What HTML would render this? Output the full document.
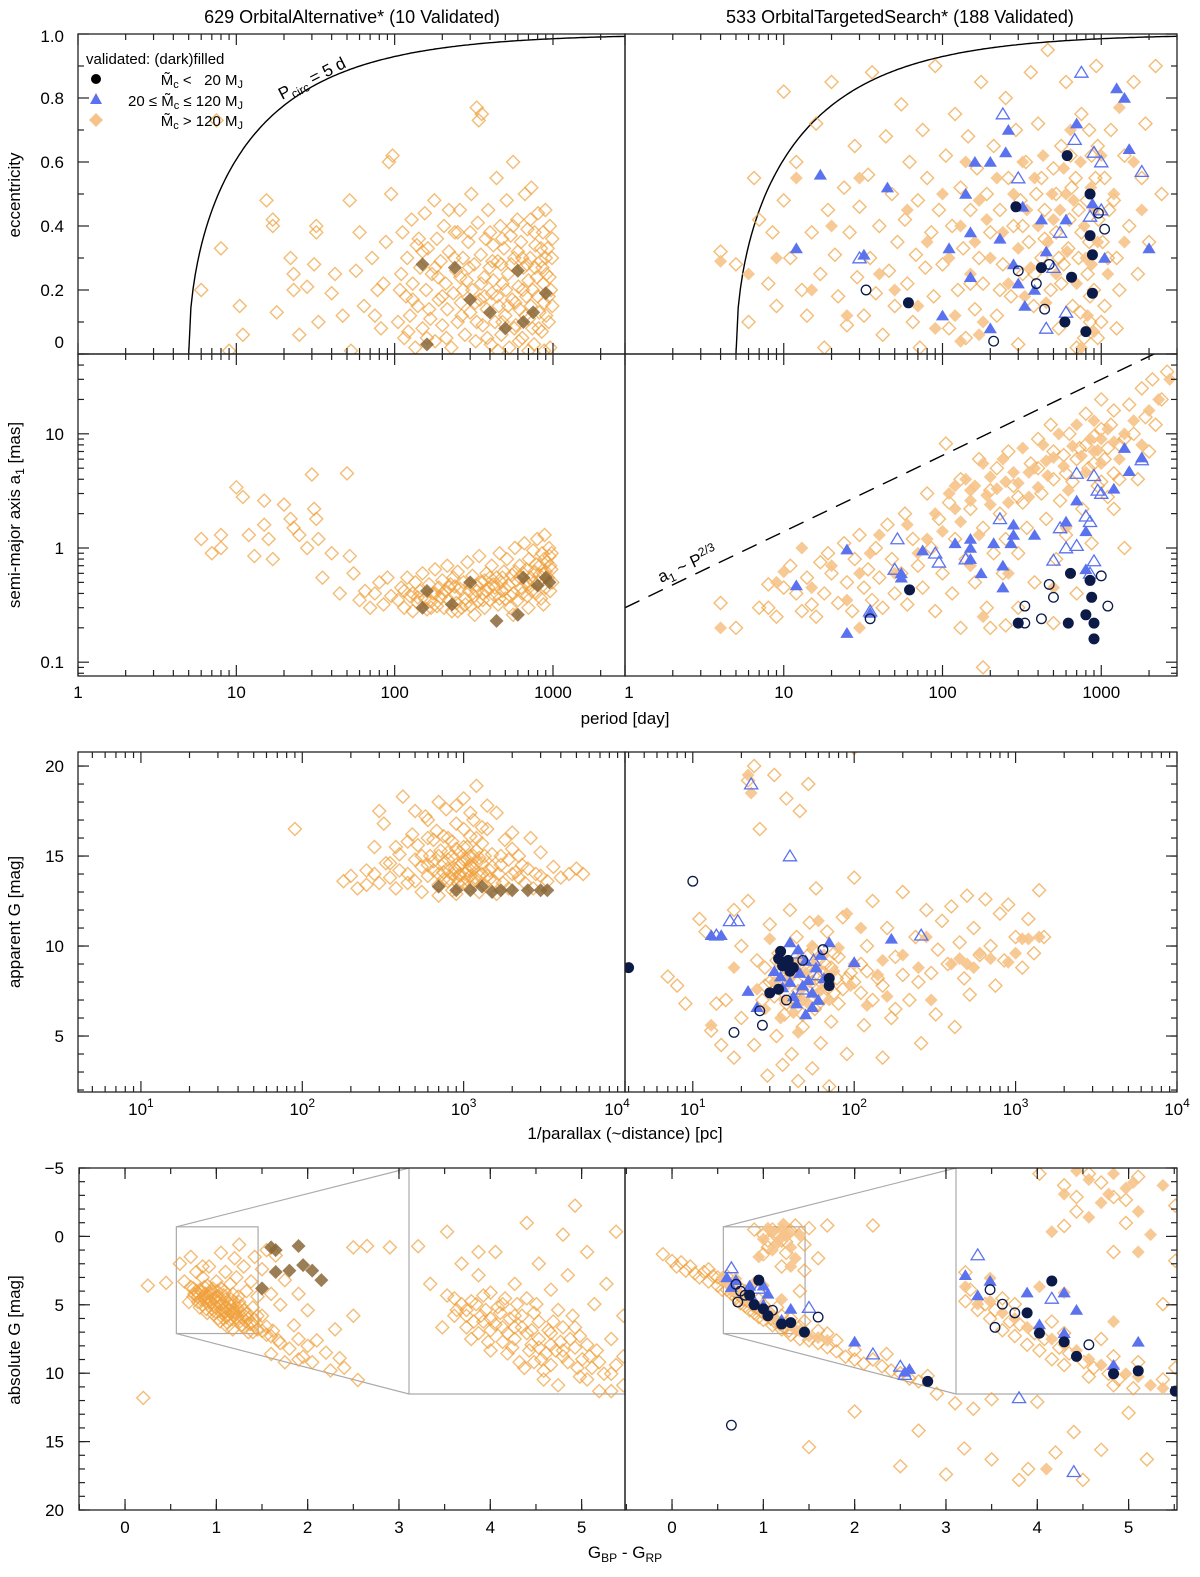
<!DOCTYPE html>
<html><head><meta charset="utf-8"><style>
html,body{margin:0;padding:0;background:#fff}
svg text{font-family:"Liberation Sans",Arial,sans-serif;fill:#000}
</style></head><body>
<svg id="fig" width="1200" height="1572" viewBox="0 0 1200 1572" xmlns="http://www.w3.org/2000/svg">
<text x="352" y="23" font-size="18" text-anchor="middle">629 OrbitalAlternative* (10 Validated)</text>
<text x="900" y="23" font-size="18" text-anchor="middle">533 OrbitalTargetedSearch* (188 Validated)</text>
<text transform="translate(20,195) rotate(-90)" font-size="17" text-anchor="middle">eccentricity</text>
<text transform="translate(20,515) rotate(-90)" font-size="17" text-anchor="middle">semi-major axis a<tspan font-size="12" dy="4">1</tspan><tspan dy="-4"> [mas]</tspan></text>
<text transform="translate(20,922) rotate(-90)" font-size="17" text-anchor="middle">apparent G [mag]</text>
<text transform="translate(20,1340) rotate(-90)" font-size="17" text-anchor="middle">absolute G [mag]</text>
<text x="625" y="724" font-size="17" text-anchor="middle">period [day]</text>
<text x="625" y="1139" font-size="17" text-anchor="middle">1/parallax (~distance) [pc]</text>
<text x="625" y="1558" font-size="17" text-anchor="middle">G<tspan font-size="12" dy="4">BP</tspan><tspan dy="-4"> - G</tspan><tspan font-size="12" dy="4">RP</tspan></text>
<g id="layer"></g>
</svg>
<script>
// ---------- data (data units) ----------
const altEccOpen=[[6,0.2],[7.5,0.73],[8,0.33],[9,0.01],[10.5,0.15],[11,0.06],[15.5,0.48],[17,0.42],[17,0.4],[18,0.13],[22,0.3],[23,0.25],[23,0.2],[25,0.06],[28,0.21],[32,0.4],[32,0.38],[31,0.28],[33,0.1],[40,0.19],[42,0.25],[47,0.12],[52,0.48],[53,0.01],[57,0.26],[60,0.38],[64,0.15],[72,0.3],[78,0.2],[82,0.08],[88,0.35],[92,0.6],[95,0.5],[97,0.62],[85,0.22],[75,0.12],
[105,0.1],[110,0.25],[112,0.38],[115,0.05],[118,0.18],[120,0.3],[125,0.12],[128,0.42],[130,0.22],[135,0.02],[138,0.34],[140,0.15],[145,0.27],[150,0.08],[155,0.44],[158,0.2],[162,0.33],[168,0.11],[172,0.25],[178,0.48],[180,0.04],[185,0.36],[190,0.17],[195,0.29],[200,0.09],[205,0.4],[210,0.22],[215,0.14],[220,0.32],[228,0.02],[235,0.19],[240,0.38],[245,0.26],[250,0.1],[258,0.45],[262,0.16],[270,0.3],[278,0.06],[285,0.23],[292,0.35],[300,0.13],[305,0.5],[310,0.2],[318,0.28],[325,0.04],[330,0.77],[335,0.41],[340,0.73],[345,0.17],[350,0.31],[355,0.75],[360,0.09],[368,0.24],[375,0.36],[382,0.14],[390,0.45],[398,0.27],[405,0.03],[412,0.19],[420,0.34],[430,0.1],[440,0.55],[448,0.29],[455,0.15],[465,0.4],[472,0.06],[480,0.22],[490,0.33],[500,0.12],[510,0.48],[520,0.25],[530,0.02],[540,0.37],[552,0.17],[560,0.6],[570,0.3],[582,0.09],[595,0.42],[605,0.21],[615,0.14],[628,0.35],[640,0.05],[652,0.27],[665,0.5],[678,0.18],[690,0.39],[705,0.11],[718,0.3],[730,0.52],[745,0.2],[760,0.03],[775,0.34],[790,0.24],[805,0.44],[820,0.13],[835,0.29],[850,0.07],[865,0.38],[880,0.16],[895,0.45],[910,0.25],[925,0.33],[940,0.1],[955,0.4],[970,0.2],[985,0.3],[960,0.02],[880,0.01],[700,0.01],[450,0.01],[250,0.38],[180,0.27],[130,0.17],[160,0.05],[220,0.45],[300,0.38],[420,0.23],[520,0.15],[600,0.32],[700,0.23],[800,0.18],[900,0.3],[990,0.15],[270,0.2],[370,0.18],[470,0.28],[570,0.08],[670,0.12],[770,0.27],[870,0.22],
[108,0.2],[122,0.07],[142,0.36],[165,0.14],[188,0.24],[212,0.05],[238,0.3],[265,0.12],[295,0.27],[322,0.16],[352,0.22],[385,0.05],[415,0.29],[445,0.18],[478,0.36],[505,0.2],[545,0.28],[578,0.16],[610,0.04],[645,0.2],[685,0.28],[725,0.15],[765,0.38],[812,0.08],[858,0.27],[905,0.12],[950,0.24],[990,0.36],[150,0.32],[200,0.18],[260,0.24],[330,0.1],[400,0.38],[480,0.1],[560,0.4],[640,0.3],[740,0.08],[840,0.33],[940,0.18],[720,0.42]];
const altEccDark=[[150,0.28],[160,0.03],[240,0.27],[300,0.17],[400,0.13],[500,0.08],[600,0.26],[650,0.1],[750,0.13],[900,0.19]];
const tgtEccOpen=[[4,0.32],[5,0.28],[6,0.1],[6.5,0.55],[7,0.42],[8,0.22],[8.5,0.38],[9,0.15],[10,0.82],[10,0.48],[11,0.3],[12,0.6],[13,0.2],[14,0.12],[15,0.38],[16,0.72],[17,0.25],[18,0.02],[19,0.45],[20,0.85],[21,0.31],[22,0.18],[24,0.52],[25,0.09],[26,0.38],[28,0.65],[29,0.24],[30,0.46],[32,0.12],[34,0.56],[35,0.3],[36,0.88],[38,0.19],[40,0.4],[42,0.06],[44,0.68],[46,0.26],[48,0.5],[50,0.15],[52,0.35],[55,0.78],[58,0.42],[60,0.22],[62,0.6],[65,0.1],[68,0.31],[70,0.48],[72,0.02],[75,0.7],[78,0.27],[80,0.55],[85,0.38],[88,0.18],[90,0.9],[95,0.45],[100,0.28],[105,0.62],[110,0.08],[115,0.4],[120,0.75],[125,0.2],[130,0.52],[135,0.33],[140,0.05],[145,0.68],[150,0.45],[160,0.14],[165,0.58],[170,0.3],[175,0.85],[180,0.22],[190,0.5],[200,0.38],[210,0.65],[220,0.12],[230,0.45],[240,0.28],[250,0.8],[260,0.55],[270,0.18],[280,0.4],[290,0.7],[300,0.03],[310,0.48],[320,0.25],[335,0.6],[350,0.35],[360,0.88],[375,0.15],[390,0.5],[400,0.72],[420,0.3],[440,0.45],[460,0.95],[480,0.2],[500,0.58],[520,0.38],[540,0.08],[560,0.65],[580,0.28],[600,0.85],[630,0.42],[660,0.15],[690,0.55],[720,0.3],[750,0.75],[780,0.05],[810,0.48],[840,0.35],[870,0.62],[900,0.2],[930,0.9],[960,0.42],[1000,0.1],[1050,0.55],[1100,0.3],[1150,0.7],[1200,0.48],[1300,0.2],[1400,0.62],[1500,0.4],[1600,0.85],[1700,0.25],[1800,0.55],[1900,0.72],[2000,0.35],[2200,0.9],[2400,0.5],[700,0.02],[850,0.1],[950,0.05],[1050,0.15],[1250,0.08],[560,0.22],[380,0.25],[230,0.2],[150,0.22],
[320,0.4],[420,0.55],[520,0.5],[620,0.33],[720,0.45],[820,0.25],[920,0.55],[1020,0.35],[1120,0.45],[1250,0.3],[650,0.52],[750,0.38],[850,0.18],[950,0.65],[440,0.36],[540,0.3],[640,0.62],[740,0.13],[840,0.7]];
const tgtEccFill=[[4,0.29],[6,0.25],[9,0.3],[12,0.55],[15,0.2],[20,0.4],[25,0.12],[30,0.55],[40,0.25],[50,0.2],[60,0.45],[70,0.15],[80,0.35],[90,0.08],[100,0.5],[110,0.3],[120,0.12],[130,0.4],[140,0.6],[150,0.25],[160,0.35],[170,0.48],[180,0.1],[190,0.42],[200,0.3],[220,0.55],[240,0.38],[260,0.22],[280,0.5],[300,0.33],[320,0.6],[340,0.45],[360,0.27],[380,0.55],[400,0.4],[430,0.62],[460,0.35],[490,0.5],[520,0.25],[550,0.45],[580,0.58],[610,0.32],[640,0.7],[670,0.48],[700,0.22],[740,0.6],[780,0.4],[820,0.12],[860,0.52],[900,0.07],[950,0.35],[1000,0.62],[1100,0.25],[1200,0.5],[1300,0.77],[1400,0.35],[1600,0.6],[1800,0.45],[130,0.04],[170,0.06],[450,0.16],[750,0.02],[870,0.28],[330,0.18],[500,0.42],[600,0.5],[800,0.3],[900,0.45]];
const tgtEccTriF=[[12,0.33],[17,0.56],[32,0.31],[45,0.52],[100,0.12],[110,0.33],[140,0.5],[150,0.38],[150,0.24],[160,0.6],[200,0.6],[200,0.08],[230,0.36],[250,0.63],[260,0.7],[280,0.28],[320,0.46],[330,0.15],[380,0.2],[420,0.42],[450,0.32],[700,0.72],[880,0.47],[1050,0.3],[1250,0.83],[1400,0.8],[1500,0.64],[2000,0.33],[300,0.22],[600,0.42]];
const tgtEccTriO=[[30,0.3],[240,0.75],[300,0.55],[500,0.27],[600,0.13],[680,0.67],[750,0.88],[850,0.43],[900,0.63],[1000,0.6],[1000,0.45],[1800,0.57],[550,0.38],[450,0.08]];
const tgtEccCirF=[[610,0.62],[850,0.5],[290,0.46],[850,0.37],[420,0.27],[650,0.24],[880,0.31],[880,0.19],[590,0.1],[800,0.07],[61,0.16]];
const tgtEccCirO=[[33,0.2],[300,0.26],[470,0.28],[390,0.22],[440,0.14],[960,0.44],[1050,0.39],[210,0.04]];

const altA1Open=[[6,1.2],[7,0.9],[8,1.3],[8,1.0],[10,3.4],[11,2.8],[12,1.3],[13,0.85],[15,2.6],[15,1.6],[16,1.2],[17,0.8],[20,2.4],[22,1.8],[23,1.5],[25,1.3],[28,1.0],[30,4.4],[31,2.2],[32,1.8],[33,1.2],[35,0.55],[40,0.9],[45,0.4],[50,4.5],[52,0.85],[55,0.6],[60,0.35],[65,0.42],[70,0.3],[75,0.4],[80,0.5],[85,0.32],[90,0.55],[95,0.38],
[105,0.35],[110,0.45],[115,0.3],[120,0.55],[125,0.38],[130,0.28],[135,0.5],[140,0.33],[145,0.42],[150,0.6],[155,0.36],[160,0.29],[165,0.48],[170,0.34],[175,0.4],[180,0.65],[185,0.31],[190,0.45],[195,0.37],[200,0.52],[205,0.3],[210,0.42],[215,0.7],[220,0.35],[225,0.48],[230,0.28],[235,0.55],[240,0.39],[245,0.33],[250,0.62],[258,0.44],[265,0.3],[272,0.5],[280,0.36],[288,0.75],[295,0.42],[302,0.31],[310,0.57],[318,0.38],[326,0.47],[334,0.34],[342,0.85],[350,0.5],[360,0.4],[370,0.3],[380,0.6],[390,0.45],[400,0.35],[410,0.7],[420,0.48],[430,0.38],[440,0.55],[450,0.32],[460,0.9],[470,0.5],[480,0.42],[490,0.62],[500,0.36],[512,0.8],[525,0.47],[538,0.3],[550,0.58],[562,0.4],[575,1.0],[588,0.52],[600,0.35],[615,0.7],[630,0.45],[645,0.6],[660,1.1],[675,0.5],[690,0.38],[705,0.8],[720,0.55],[735,0.42],[750,0.95],[765,0.62],[780,0.4],[795,1.2],[810,0.5],[825,0.7],[840,0.36],[855,0.9],[870,0.6],[885,1.3],[900,0.45],[915,0.75],[930,0.55],[945,1.0],[960,0.42],[975,0.65],[990,0.5],[560,0.26],[320,0.26],[180,0.4],[250,0.28],[400,0.55],[700,0.3],[870,0.32],[950,0.85],[130,0.4],[220,0.45],[300,0.48],[380,0.42],[480,0.55],[580,0.62],[680,0.65],[780,0.72],[880,0.8],[980,0.9],
[115,0.42],[140,0.37],[170,0.3],[200,0.4],[240,0.46],[280,0.32],[330,0.42],[370,0.52],[430,0.45],[500,0.44],[540,0.38],[620,0.55],[700,0.48],[760,0.5],[820,0.58],[900,0.62],[960,0.7],[640,0.4],[460,0.36],[360,0.35]];
const altA1Dark=[[150,0.3],[160,0.42],[230,0.32],[300,0.5],[440,0.23],[600,0.26],[650,0.55],[800,0.47],[900,0.55],[950,0.5]];
const tgtA1Open=[[4,0.33],[5,0.2],[7,0.3],[8,0.48],[8,0.3],[9,0.25],[10,0.45],[11,0.7],[12,0.4],[13,0.28],[14,0.55],[15,0.32],[16,0.25],[17,0.75],[18,0.4],[19,0.9],[20,0.6],[22,0.33],[24,1.1],[25,0.5],[27,0.28],[28,0.8],[30,1.3],[32,0.45],[34,0.65],[36,0.35],[38,1.0],[40,0.55],[42,0.3],[45,1.6],[48,0.8],[50,0.4],[55,0.6],[58,2.0],[60,0.32],[65,1.2],[70,0.7],[75,0.45],[80,3.0],[85,1.0],[90,0.28],[95,1.8],[100,0.6],[105,8.2],[110,2.5],[115,0.4],[120,1.2],[130,4.0],[140,0.8],[150,2.2],[160,0.5],[170,6.0],[180,1.5],[190,0.3],[200,3.2],[210,0.9],[220,5.0],[230,2.0],[240,0.6],[250,1.2],[260,7.0],[280,3.5],[300,0.9],[320,2.5],[340,1.5],[360,5.5],[380,0.5],[400,9.0],[420,3.0],[450,1.8],[480,12],[500,4.0],[520,0.8],[550,2.6],[580,6.5],[600,1.3],[630,10],[660,3.8],[700,0.4],[730,7.5],[760,2.2],[800,15],[830,5.0],[870,1.1],[900,9.5],[950,3.5],[1000,20],[1050,6.0],[1100,2.8],[1150,12],[1200,4.5],[1300,8.0],[1400,1.0],[1500,18],[1600,10],[1700,4.0],[1800,25],[1900,14],[2000,7.0],[2100,30],[2200,12],[2400,20],[2600,35],[200,0.2],[300,0.3],[500,0.22],[250,0.21],[180,0.09],[130,0.2],
[700,6],[800,8],[900,5.5],[1000,11],[1100,7.5],[1200,16],[1300,4],[1400,9],[600,4.5],[500,7],[400,5],[300,2.8],[1000,3.8],[1200,2.2]];
const tgtA1Fill=[[4,0.2],[9,0.5],[10,0.62],[13,1.0],[15,0.45],[20,0.7],[25,0.35],[30,0.6],[35,0.9],[40,1.3],[50,0.6],[60,1.6],[70,0.9],[80,1.2],[90,2.0],[100,1.4],[110,3.0],[120,2.2],[130,1.7],[140,4.0],[150,2.6],[160,3.5],[170,1.3],[180,5.5],[190,2.9],[200,4.2],[220,3.3],[240,6.0],[260,2.5],[280,4.6],[300,3.7],[320,7.5],[350,2.8],[380,5.0],[400,3.4],[430,8.0],[460,4.3],[500,6.2],[540,10],[580,5.2],[620,3.2],[660,7.8],[700,12],[750,6.4],[800,4.6],[850,9.0],[900,13],[950,7.2],[1000,5.5],[1100,11],[1200,8.5],[1300,6.0],[1400,10],[1600,13],[1800,8.0],[2000,16],[2300,20],[2700,30],[260,0.6],[500,0.45],[180,0.25],[30,0.2],[150,0.7],[600,1.5],[120,3.5],[150,3.2],[200,2.4],[250,3.8],[350,4.6],[450,5.8],[900,7],[1000,9]];
const tgtA1TriF=[[12,0.47],[25,0.97],[25,0.18],[55,0.6],[55,0.55],[75,0.95],[120,1.1],[150,1.2],[150,1.0],[150,0.8],[175,0.6],[210,1.1],[240,0.7],[240,0.45],[270,1.1],[280,1.6],[280,1.3],[380,1.3],[600,1.7],[700,2.6],[800,1.4],[800,0.65],[1200,3.3],[1400,7.5],[1500,4.7],[1800,6.2],[35,0.27]];
const tgtA1TriO=[[35,0.28],[50,0.65],[52,1.2],[90,0.9],[95,0.75],[140,0.8],[230,1.8],[500,0.78],[550,1.5],[600,1.0],[700,4.5],[700,1.05],[800,1.9],[850,1.7],[900,4.3],[900,0.77],[950,3.2],[1000,3.0],[1800,5.9],[850,0.6]];
const tgtA1CirF=[[62,0.43],[300,0.22],[620,0.22],[640,0.6],[800,0.26],[850,0.52],[870,0.37],[900,0.22],[900,0.16]];
const tgtA1CirO=[[35,0.24],[330,0.31],[330,0.22],[420,0.24],[470,0.48],[500,0.37],[1000,0.57],[1100,0.31]];

const altGOpen=[[90,16.5],[180,13.6],[200,13.9],[220,13.2],[250,14.2],[280,15.5],[300,13.5],[320,16.8],[350,14.6],[380,13.2],[400,15.1],[420,18.3],[450,14.0],[480,16.2],[500,13.6],[520,15.6],[550,14.4],[580,17.2],[600,13.9],[620,15.0],[650,14.7],[680,16.4],[700,13.4],[720,15.3],[750,14.1],[780,17.6],[800,14.8],[820,13.7],[850,15.8],[880,14.3],[900,16.8],[920,13.5],[950,15.2],[980,14.6],[1000,18.2],[1020,14.0],[1050,15.5],[1080,13.3],[1100,16.1],[1120,14.4],[1150,17.0],[1180,13.8],[1200,18.9],[1250,14.9],[1300,15.7],[1350,13.4],[1400,16.5],[1450,14.2],[1500,15.1],[1550,13.6],[1600,17.4],[1700,14.5],[1800,15.9],[1900,13.2],[2000,16.3],[2100,14.1],[2200,15.0],[2400,13.5],[2600,16.0],[2800,14.0],[3000,15.2],[3300,13.6],[3600,14.4],[4000,13.8],[4500,14.0],[5000,14.3],[5500,14.0],[350,13.8],[450,15.8],[550,13.0],[650,15.9],[750,16.1],[850,13.1],[950,13.9],[1050,14.2],[1150,15.0],[1250,13.0],[1350,15.0],[1450,13.7],[1650,14.0],[1750,13.5],[1900,14.8],[2300,14.5],[2700,13.2],[500,14.8],[600,14.5],[700,15.0],[800,13.6],[900,14.2],[1000,14.8],[1100,13.9],[1200,14.6],[1300,14.0],[800,16.0],[1000,16.5],[1200,16.0],[1400,17.8],[600,17.0],[700,18.0],[300,17.5],[900,12.9],[1600,12.9],[700,12.8],[650,14.2],[750,14.6],[850,14.0],[950,14.5],[1050,13.7],[1150,14.3],[1250,13.9],[1000,15.5],[900,15.4],[1100,15.0],[800,15.2],
[400,14.2],[450,13.5],[550,15.0],[600,16.0],[700,14.0],[750,13.7],[800,14.3],[850,15.0],[900,13.8],[950,14.0],[1000,13.5],[1050,14.8],[1100,14.5],[1150,13.6],[1200,15.3],[1300,14.6],[1400,13.9],[1500,14.4],[1700,15.0],[2000,14.0],[2200,13.8],[2500,14.3],[3000,13.9],[250,13.4],[280,14.0],[330,14.6],[380,15.5],[1100,17.4],[1300,16.6],[900,17.8],[500,17.5],[2000,15.4]];
const altGDark=[[700,13.3],[900,13.1],[1100,13.1],[1300,13.3],[1500,13.0],[1700,13.1],[2000,13.1],[2500,13.1],[3000,13.1],[3300,13.1]];
const tgtGOpen=[[7,8.3],[8,7.8],[9,6.8],[11,11.5],[12,10.8],[13,5.3],[14,6.8],[15,4.5],[16,7.0],[18,12.0],[18,3.8],[20,10.0],[20,6.0],[22,19.2],[22,12.5],[24,20.0],[24,4.5],[26,16.5],[27,7.0],[28,8.8],[29,2.8],[30,11.2],[32,19.5],[33,5.0],[34,9.6],[36,3.4],[37,6.2],[38,18.2],[40,12.0],[41,4.0],[43,7.0],[44,10.5],[45,2.5],[46,17.5],[48,5.5],[50,8.8],[52,19.0],[53,11.3],[55,3.2],[57,6.5],[58,13.2],[60,9.2],[62,4.6],[65,7.2],[68,10.8],[70,2.2],[72,5.8],[75,9.6],[80,6.8],[85,11.6],[90,4.0],[95,8.5],[100,21],[100,13.8],[110,7.4],[115,5.6],[120,10.0],[130,12.5],[140,8.2],[150,3.8],[160,11.0],[170,6.0],[180,9.4],[200,13.0],[220,7.0],[240,10.5],[260,4.6],[280,12.0],[300,8.5],[320,6.2],[350,11.4],[380,9.0],[400,12.2],[420,5.5],[450,10.2],[480,8.2],[500,12.8],[520,7.3],[550,11.0],[600,9.5],[650,12.6],[700,10.0],[750,7.8],[800,11.8],[850,9.2],[900,12.3],[1000,10.5],[1100,8.8],[1200,11.5],[1300,9.6],[1400,13.1],[1500,10.5],[30,8.0],[35,8.5],[45,7.5],[55,8.0],[65,8.5],[38,6.8],[48,6.2],[60,6.8],[42,9.0],[52,9.5],[75,7.4],[90,8.2],[25,9.2],[110,9.0],[130,7.0],[180,6.5],[250,8.0],[330,9.8],
[32,7.2],[36,8.2],[40,7.0],[44,8.0],[50,7.3],[54,8.6],[58,7.8],[62,8.0],[68,7.6],[72,8.8],[78,8.2],[85,7.6],[28,7.8],[33,9.2],[46,9.0],[56,9.8],[66,9.0],[80,9.4],[100,8.0],[120,8.6],[150,7.8],[200,8.4]];
const tgtGFill=[[13,5.6],[18,8.8],[22,19.5],[23,18.5],[25,7.6],[28,6.5],[30,10.4],[32,8.0],[35,9.0],[37,7.0],[40,8.2],[42,6.3],[45,9.2],[47,7.6],[50,8.5],[52,6.8],[55,10.0],[58,7.3],[60,8.8],[65,9.5],[70,7.0],[75,8.6],[80,9.9],[90,11.8],[95,7.8],[100,9.0],[110,11.0],[120,6.7],[140,8.4],[150,9.2],[160,7.2],[200,9.5],[250,8.8],[280,10.5],[300,7.0],[400,9.0],[450,9.3],[500,9.0],[550,8.8],[600,9.6],[700,9.3],[900,9.1],[1000,9.6],[1100,10.4],[1200,10.4],[1400,10.5],[45,5.2],[60,11.4],[35,6.0],[38,7.8],[43,8.6],[48,7.0],[53,8.0],[57,9.0],[63,7.6],[68,8.4]];
const tgtGTriF=[[13,10.6],[15,10.6],[22,7.5],[25,6.6],[32,8.6],[35,8.3],[36,7.7],[38,9.0],[40,10.2],[40,8.0],[42,7.2],[44,6.8],[46,8.5],[48,7.8],[50,9.2],[52,8.1],[55,6.6],[55,7.4],[58,8.8],[60,7.0],[62,9.5],[65,8.2],[70,10.2],[100,9.1],[170,10.4],[45,9.8],[50,6.2]];
const tgtGTriO=[[23,19.0],[40,15.0],[14,10.6],[17,11.4],[19,11.4],[44,9.6],[56,9.2],[260,10.6],[48,7.6],[60,8.4]];
const tgtGCirF=[[4,8.8],[35,9.7],[34,9.3],[39,9.2],[36,8.9],[42,8.8],[30,7.4],[34,7.6],[70,8.2],[70,7.8],[40,8.6]];
const tgtGCirO=[[10,13.6],[18,5.2],[27,5.6],[26,6.4],[64,9.8],[38,7.0],[48,9.2]];

const altMOpen=[[0.25,3.6],[0.2,11.8],[0.45,3.4],[0.6,2.0],[0.65,3.3],[0.7,4.8],[0.72,1.5],[0.75,3.8],[0.78,2.6],[0.8,4.2],[0.82,5.2],[0.85,3.0],[0.87,4.6],[0.9,3.6],[0.9,5.6],[0.92,2.2],[0.95,4.0],[0.97,5.0],[1.0,3.3],[1.0,4.4],[1.02,6.0],[1.05,1.2],[1.05,3.8],[1.07,5.4],[1.1,4.6],[1.1,2.6],[1.12,6.3],[1.15,3.5],[1.15,5.0],[1.18,4.2],[1.2,5.8],[1.2,1.6],[1.22,3.0],[1.25,4.8],[1.27,6.5],[1.3,2.2],[1.3,5.4],[1.33,4.0],[1.35,6.0],[1.38,3.3],[1.4,5.2],[1.42,1.5],[1.45,6.8],[1.45,4.4],[1.5,5.8],[1.5,2.4],[1.55,6.6],[1.6,4.2],[1.6,7.3],[1.65,1.4],[1.7,5.0],[1.7,7.8],[1.75,3.2],[1.8,8.2],[1.85,6.5],[1.9,7.5],[1.95,8.8],[2.0,8.0],[2.05,9.2],[2.1,7.6],[2.2,8.5],[2.25,9.8],[2.3,6.8],[2.35,8.9],[2.4,9.6],[2.5,5.8],[2.55,10.5],[2.5,0.8],[2.65,0.7],[2.9,0.8],[1.9,4.2],[2.0,5.4],[1.55,1.0],[0.85,2.2],[1.25,0.6],[1.75,9.2],[1.6,8.6],[1.4,7.0],[1.9,9.0],
[0.75,4.4],[0.8,4.8],[0.85,5.0],[0.88,4.2],[0.92,4.7],[0.95,5.3],[0.98,4.5],[1.0,5.2],[1.03,4.8],[1.06,5.6],[1.08,4.3],[1.1,5.2],[1.13,5.7],[1.16,4.6],[1.19,5.3],[1.22,6.0],[1.25,5.5],[1.28,5.9],[1.32,6.2],[0.82,3.9],[0.86,4.4],[0.9,4.9],[0.94,4.3],[0.97,5.7],[1.04,6.2],[1.12,6.6],[1.18,6.8],[1.3,6.6],[1.35,7.0],[0.78,4.0],[0.83,4.6],[1.01,4.0],[1.09,4.0],[1.15,6.1],[1.2,4.8],[1.27,5.1],[1.34,5.6],[1.4,6.4],[1.45,5.8],[1.5,6.9],[1.55,7.2],[1.62,6.9],[1.68,7.6],[0.8,4.4],[0.9,4.5],[1.0,4.8],[1.1,5.5],[1.2,5.6],[0.95,4.8],[1.05,5.0],[1.15,5.4],
[0.72,3.7],[0.76,4.2],[0.84,4.0],[0.89,5.3],[0.93,4.1],[0.99,5.5],[1.03,4.4],[1.07,4.9],[1.11,5.9],[1.14,4.9],[1.17,5.6],[1.23,5.2],[1.26,6.2],[1.31,5.8],[1.37,6.4],[1.42,6.1],[0.87,3.7],[0.96,3.8],[1.08,6.0],[1.24,4.4]];
const altMDark=[[1.6,0.8],[1.65,1.0],[1.9,0.7],[1.8,2.5],[1.95,2.1],[2.05,2.5],[2.15,3.2],[1.5,3.8],[1.65,2.6]];
const tgtMOpen=[[-0.1,1.3],[0.0,1.8],[0.05,2.2],[0.1,1.9],[0.15,2.5],[0.2,2.2],[0.25,2.7],[0.3,3.0],[0.35,2.6],[0.4,3.3],[0.45,2.9],[0.5,3.6],[0.55,3.2],[0.6,3.9],[0.65,4.2],[0.7,4.5],[0.75,4.9],[0.8,5.1],[0.85,5.4],[0.9,5.6],[0.95,5.9],[1.0,6.1],[1.1,6.5],[1.2,6.8],[1.3,7.2],[1.4,7.5],[1.5,7.6],[1.6,7.8],[1.7,8.1],[1.8,8.4],[1.9,8.8],[2.0,9.0],[2.1,9.3],[2.2,9.0],[2.3,9.5],[2.4,9.8],[2.5,10.0],[2.6,10.4],[2.7,10.6],[2.9,11.5],[3.1,12.2],[3.3,12.6],[0.5,3.0],[0.6,2.9],[0.8,4.0],[1.0,5.0],[1.2,5.8],[1.4,6.6],[1.6,6.9],[1.8,7.6],[2.0,8.3],[0.9,-0.5],[1.0,-0.1],[1.05,0.3],[1.15,-0.2],[1.25,0.4],[1.35,-0.8],[1.45,0.6],[1.5,-0.6],[1.6,1.6],[1.0,1.3],[1.2,2.2],[1.45,2.5],[1.7,-0.8],[2.2,-0.8],[1.4,4.0],[2.0,12.8],[2.7,14.2],[3.2,15.5],[3.5,16.3],[3.9,17.0],[4.2,15.8],[4.4,14.3],[4.5,17.8],[4.7,15.6],[5.0,12.9],[5.2,16.3],[3.0,17.4],[3.8,17.8],[2.5,16.8],[1.5,15.4],[2.8,10.2],[3.5,11.9],[4.0,12.1],[1.7,7.1],[2.35,8.6],[0.4,2.4],[0.55,3.9],[0.75,3.8],[0.95,4.6],[1.15,5.2],[1.3,6.0],[1.45,6.2],
[0.62,3.5],[0.68,4.0],[0.72,4.2],[0.78,4.6],[0.82,4.7],[0.88,5.0],[0.92,5.2],[0.98,5.5],[1.02,5.7],[1.08,6.0],[1.12,6.2],[1.18,6.4],[1.22,6.6],[1.28,6.9],[1.1,-0.5],[1.2,0.3],[1.3,-0.4],[1.05,0.8],[1.25,1.2]];
const tgtMFill=[[0.6,3.4],[0.7,3.9],[0.8,4.5],[0.9,5.0],[1.0,5.4],[1.1,5.9],[1.2,6.2],[1.3,6.5],[1.4,6.9],[1.5,7.3],[1.6,7.4],[1.7,7.6],[0.65,4.0],[0.75,4.3],[0.85,4.8],[0.95,5.2],[1.05,5.6],[1.15,6.1],[1.25,6.4],[1.35,6.8],[1.0,0.2],[1.1,-0.3],[1.15,0.5],[1.2,-0.5],[1.25,0.0],[1.3,0.8],[1.05,-0.6],[1.18,0.2],[1.22,-0.9],[1.28,-0.2],[1.1,1.0],[1.35,1.6],[1.4,-0.1],[0.95,1.5],[1.3,2.2],[0.9,3.4],[1.0,3.6],[1.2,4.6],[0.7,3.1],[0.55,3.0],[4.1,17.0]];
const tgtMTriF=[[0.6,3.0],[0.65,3.7],[0.7,3.2],[0.85,3.6],[1.0,3.6],[1.05,4.2],[1.2,6.1],[1.3,5.3],[2.0,7.7],[2.55,9.9],[2.6,9.7],[0.9,4.7],[1.0,5.0]];
const tgtMTriO=[[0.65,2.3],[0.95,3.8],[1.5,5.2],[2.2,8.6],[2.5,9.5],[2.55,10.1],[3.8,11.8],[4.4,17.2]];
const tgtMCirF=[[0.85,4.3],[0.95,3.2],[1.0,5.3],[1.05,5.8],[1.2,6.4],[1.3,6.3],[1.45,7.0],[0.9,5.0],[2.8,10.6]];
const tgtMCirO=[[0.7,3.5],[0.75,4.0],[0.8,4.3],[0.72,4.8],[1.1,5.4],[1.6,5.9],[0.65,13.8]];

const eccTicks=[0,0.2,0.4,0.6,0.8,1.0];
const eccTickLabels=["0","0.2","0.4","0.6","0.8","1.0"];
const periodTicks=[1,10,100,1000];
const periodTickLabels=["1","10","100","1000"];
const a1Ticks=[0.1,1,10];
const a1TickLabels=["0.1","1","10"];
const distTicks=[10,100,1000,10000];
const distTickExps=["1","2","3","4"];
const gAppTicks=[5,10,15,20];
const gAbsTicks=[-5,0,5,10,15,20];
const colorTicks=[0,1,2,3,4,5];

// ---------- helpers ----------
const NS="http://www.w3.org/2000/svg";
const layer=document.getElementById('layer');
function mk(tag,attrs,parent){const e=document.createElementNS(NS,tag);for(const k in attrs)e.setAttribute(k,attrs[k]);(parent||layer).appendChild(e);return e;}
function axis(lo,hi,p0,p1,log){return v=>{if(log){const a=Math.log10(lo),b=Math.log10(hi);return p0+(Math.log10(v)-a)/(b-a)*(p1-p0);}return p0+(v-lo)/(hi-lo)*(p1-p0);};}
function panel(name,x0,x1,y0,y1,xl,xh,xlog,yl,yh,ylog){
  const p={x0,x1,y0,y1,sx:axis(xl,xh,x0,x1,xlog),sy:axis(yl,yh,y1,y0,ylog)};
  const cp=mk('clipPath',{id:'clip-'+name});mk('rect',{x:x0,y:y0,width:x1-x0,height:y1-y0},cp);
  const g=mk('g',{'clip-path':'url(#clip-'+name+')'});
  
  
  p.g=g;return p;}
const OR='#f0a03a',ORF='#f6c38a',DK='#8a6738',BL='#5a72ee',NV='#0b1a47';
function diamond(g,x,y,s,fill,stroke,op){return mk('polygon',{points:`${x},${y-s} ${x+s},${y} ${x},${y+s} ${x-s},${y}`,fill:fill,stroke:stroke,'stroke-width':1.4,opacity:op},g);}
function tri(g,x,y,s,fill,stroke){return mk('polygon',{points:`${x},${y-s} ${x+s*1.1},${y+s*0.8} ${x-s*1.1},${y+s*0.8}`,fill:fill,stroke:stroke,'stroke-width':1.3},g);}
function plotSet(p,arr,kind,tr){
  for(const d of arr){
    let x=p.sx(d[0]),y=p.sy(d[1]);
    if(tr){const r=tr(d);if(!r)continue;x=r[0];y=r[1];}
    let el;
    if(kind==='open'){el=diamond(p.g,x,y,6.5,'none',OR,0.7);}
    else if(kind==='fill'){el=diamond(p.g,x,y,6.5,ORF,'none',0.9);}
    else if(kind==='dark'){el=diamond(p.g,x,y,7,DK,'none',0.85);}
    else if(kind==='trif'){el=tri(p.g,x,y,6,BL,'none');}
    else if(kind==='trio'){el=tri(p.g,x,y,6,'none',BL);}
    else if(kind==='cirf'){el=mk('circle',{cx:x,cy:y,r:5.5,fill:NV},p.g);}
    else {el=mk('circle',{cx:x,cy:y,r:4.8,fill:'none',stroke:NV,'stroke-width':1.3},p.g);}
    
    
  }
}
function frame(p){const r=mk('rect',{x:p.x0,y:p.y0,width:p.x1-p.x0,height:p.y1-p.y0,fill:'none',stroke:'#222','stroke-width':1.3});
  
  }
function tickX(p,vals,len,top,bottom){for(const v of vals){const x=p.sx(v);if(x<p.x0-0.5||x>p.x1+0.5)continue;
  if(bottom)mk('line',{x1:x,x2:x,y1:p.y1,y2:p.y1-len,stroke:'#222','stroke-width':1.2});
  if(top)mk('line',{x1:x,x2:x,y1:p.y0,y2:p.y0+len,stroke:'#222','stroke-width':1.2});}}
function tickY(p,vals,len,left,right){for(const v of vals){const y=p.sy(v);if(y<p.y0-0.5||y>p.y1+0.5)continue;
  if(left)mk('line',{x1:p.x0,x2:p.x0+len,y1:y,y2:y,stroke:'#222','stroke-width':1.2});
  if(right)mk('line',{x1:p.x1,x2:p.x1-len,y1:y,y2:y,stroke:'#222','stroke-width':1.2});}}
function logMinor(lo,hi){const r=[];for(let e=Math.floor(Math.log10(lo));e<=Math.ceil(Math.log10(hi));e++)for(let k=2;k<=9;k++)r.push(k*Math.pow(10,e));return r;}
function lin(lo,hi,st){const r=[];for(let v=lo;v<=hi+1e-9;v+=st)r.push(+v.toFixed(4));return r;}
function label(x,y,txt,name,anchor){const t=mk('text',{x:x,y:y,'font-size':17,'text-anchor':anchor||'middle'});t.textContent=txt;
  
  return t;}

// ---------- row 1: eccentricity ----------
const e1L=panel('ecc-left',78,625,34,354,1,2850,true,0,1.0,false);
const e1R=panel('ecc-right',625,1177,34,354,1,3000,true,0,1.0,false);
for(const p of [e1L,e1R]){
  let d='';for(let i=0;i<=200;i++){const P=5*Math.pow(600,i/200);const e=Math.sqrt(1-Math.pow(5/P,2/3));d+=(i?'L':'M')+p.sx(P).toFixed(1)+','+p.sy(e).toFixed(1);}
  const c=mk('path',{d:d,fill:'none',stroke:'#000','stroke-width':1.4},p.g);
  
  
}
plotSet(e1L,altEccOpen,'open');plotSet(e1L,altEccDark,'dark');
plotSet(e1R,tgtEccOpen,'open');plotSet(e1R,tgtEccFill,'fill');plotSet(e1R,tgtEccTriO,'trio');plotSet(e1R,tgtEccTriF,'trif');plotSet(e1R,tgtEccCirO,'ciro');plotSet(e1R,tgtEccCirF,'cirf');

// ---------- row 2: semi-major axis ----------
const a2L=panel('a1-left',78,625,354,676,1,2850,true,0.0757,50,true);
const a2R=panel('a1-right',625,1177,354,676,1,3000,true,0.0757,50,true);
plotSet(a2L,altA1Open,'open');plotSet(a2L,altA1Dark,'dark');
plotSet(a2R,tgtA1Open,'open');plotSet(a2R,tgtA1Fill,'fill');plotSet(a2R,tgtA1TriO,'trio');plotSet(a2R,tgtA1TriF,'trif');plotSet(a2R,tgtA1CirO,'ciro');plotSet(a2R,tgtA1CirF,'cirf');
{const dl=mk('line',{x1:a2R.sx(1),y1:a2R.sy(0.3),x2:a2R.sx(3000),y2:a2R.sy(0.3*Math.pow(3000,2/3)),stroke:'#000','stroke-width':1.4,'stroke-dasharray':'16,10'},a2R.g);
 
 }

// ---------- row 3: apparent G ----------
const g3L=panel('appg-left',78,625,752,1092,Math.pow(10,0.61),10000,true,1.89,20.78,false);
const g3R=panel('appg-right',625,1177,752,1092,Math.pow(10,0.58),10000,true,1.89,20.78,false);
plotSet(g3L,altGOpen,'open');plotSet(g3L,altGDark,'dark');
plotSet(g3R,tgtGOpen,'open');plotSet(g3R,tgtGFill,'fill');plotSet(g3R,tgtGTriO,'trio');plotSet(g3R,tgtGTriF,'trif');plotSet(g3R,tgtGCirO,'ciro');plotSet(g3R,tgtGCirF,'cirf');

// ---------- row 4: absolute G ----------
const m4L=panel('absg-left',79,625,1168,1510,-0.504,5.475,false,20,-5,false);
const m4R=panel('absg-right',625,1177,1168,1510,-0.515,5.53,false,20,-5,false);
const boxC=[0.562,1.457],boxM=[-0.7,7.1];
function insetTr(p,bx0){return d=>{if(d[0]<boxC[0]||d[0]>boxC[1]||d[1]<boxM[0]||d[1]>boxM[1])return null;
  return [bx0+(d[0]-boxC[0])/(boxC[1]-boxC[0])*(p.x1-bx0),p.y0+(d[1]-boxM[0])/(boxM[1]-boxM[0])*(1394-p.y0)];};}
for(const [p,bx0] of [[m4L,409],[m4R,956]]){
  const sx0=p.sx(boxC[0]),sx1=p.sx(boxC[1]),sy0=p.sy(boxM[0]),sy1=p.sy(boxM[1]);
  const zs=mk('rect',{x:sx0,y:sy0,width:sx1-sx0,height:sy1-sy0,fill:'none',stroke:'#aaa','stroke-width':1.2},p.g);
  
  
  const zb=mk('path',{d:`M${sx0},${sy0}L${bx0},${p.y0}M${sx0},${sy1}L${bx0},1394L${p.x1},1394M${bx0},${p.y0}L${bx0},1394`,fill:'none',stroke:'#aaa','stroke-width':1.2},p.g);
  
  
}
plotSet(m4L,altMOpen,'open');plotSet(m4L,altMDark,'dark');
plotSet(m4L,altMOpen,'open',insetTr(m4L,409));plotSet(m4L,altMDark,'dark',insetTr(m4L,409));
plotSet(m4R,tgtMOpen,'open');plotSet(m4R,tgtMFill,'fill');plotSet(m4R,tgtMTriO,'trio');plotSet(m4R,tgtMTriF,'trif');plotSet(m4R,tgtMCirO,'ciro');plotSet(m4R,tgtMCirF,'cirf');
plotSet(m4R,tgtMOpen,'open',insetTr(m4R,956));plotSet(m4R,tgtMFill,'fill',insetTr(m4R,956));plotSet(m4R,tgtMTriO,'trio',insetTr(m4R,956));plotSet(m4R,tgtMTriF,'trif',insetTr(m4R,956));plotSet(m4R,tgtMCirO,'ciro',insetTr(m4R,956));plotSet(m4R,tgtMCirF,'cirf',insetTr(m4R,956));

// ---------- frames & ticks ----------
for(const p of [e1L,e1R,a2L,a2R,g3L,g3R,m4L,m4R])frame(p);
for(const p of [e1L,e1R,a2L,a2R]){tickX(p,periodTicks,11,true,true);tickX(p,logMinor(1,3000),6,true,true);}
tickY(e1L,eccTicks,11,true,false);tickY(e1L,lin(0.1,0.9,0.2),6,true,false);
tickY(e1R,eccTicks,11,false,true);tickY(e1R,lin(0.1,0.9,0.2),6,false,true);
tickY(a2L,a1Ticks,11,true,false);tickY(a2L,logMinor(0.08,50),6,true,false);
tickY(a2R,a1Ticks,11,false,true);tickY(a2R,logMinor(0.08,50),6,false,true);
for(const p of [g3L,g3R]){tickX(p,distTicks,11,true,true);tickX(p,logMinor(4,10000),6,true,true);}
tickY(g3L,gAppTicks,11,true,false);tickY(g3L,lin(2,20,1),6,true,false);
tickY(g3R,gAppTicks,11,false,true);tickY(g3R,lin(2,20,1),6,false,true);
for(const p of [m4L,m4R]){tickX(p,colorTicks,11,true,true);tickX(p,lin(-0.5,5.5,0.5),6,true,true);}
tickY(m4L,gAbsTicks,11,true,false);tickY(m4L,lin(-5,20,1),6,true,false);
tickY(m4R,gAbsTicks,11,false,true);tickY(m4R,lin(-5,20,1),6,false,true);

// ---------- tick labels ----------
eccTicks.forEach((v,i)=>{let y=e1L.sy(v)+6;if(v===0)y-=12;if(v===1.0)y+=2;label(64,y,eccTickLabels[i],'ecc-tick-label','end');});
a1Ticks.forEach((v,i)=>label(64,a2L.sy(v)+6,a1TickLabels[i],'a1-tick-label','end'));
for(const p of [a2L,a2R])periodTicks.forEach((v,i)=>label(p.sx(v)+(v===1&&p===a2R?4:0),698,periodTickLabels[i],'period-tick-label'));
gAppTicks.forEach(v=>label(64,g3L.sy(v)+6,String(v),'appg-tick-label','end'));
for(const p of [g3L,g3R])distTicks.forEach((v,i)=>{let x=p.sx(v);if(v===10000&&p===g3L)x-=8;
  const t=label(x,1115,'10','dist-tick-label');const s=document.createElementNS(NS,'tspan');s.setAttribute('font-size','12');s.setAttribute('dy','-8');s.textContent=distTickExps[i];t.appendChild(s);});
gAbsTicks.forEach(v=>label(64,m4L.sy(v)+6,v<0?'−'+Math.abs(v):String(v),'absg-tick-label','end'));
for(const p of [m4L,m4R])colorTicks.forEach(v=>label(p.sx(v),1533,String(v),'color-tick-label'));

// ---------- annotations ----------
{const t=mk('text',{'font-size':17,transform:'translate(282,100) rotate(-27)'});t.innerHTML='P<tspan font-size="12" dy="4">circ</tspan><tspan dy="-4"> = 5 d</tspan>';
 
 }
{const t=mk('text',{'font-size':17,transform:'translate(661,583) rotate(-25)'});t.innerHTML='a<tspan font-size="12" dy="4">1</tspan><tspan dy="-4"> ~ P</tspan><tspan font-size="12" dy="-7">2/3</tspan>';
 
 }

// ---------- legend ----------
{const lg=mk('g',{});
 
 
 const t0=mk('text',{x:86,y:64,'font-size':15},lg);t0.textContent='validated: (dark)filled';
 const c=mk('circle',{cx:96,cy:79,r:5,fill:'#000'},lg);
 
 
 const t1=mk('text',{x:243,y:85,'font-size':15,'text-anchor':'end',style:'white-space:pre'},lg);t1.innerHTML='M̃<tspan font-size="11" dy="3">c</tspan><tspan dy="-3"> &lt;   20 M</tspan><tspan font-size="11" dy="3">J</tspan>';
 const tr=mk('polygon',{points:'96,93 102,104 90,104',fill:BL},lg);
 
 
 const t2=mk('text',{x:243,y:106,'font-size':15,'text-anchor':'end'},lg);t2.innerHTML='20 ≤ M̃<tspan font-size="11" dy="3">c</tspan><tspan dy="-3"> ≤ 120 M</tspan><tspan font-size="11" dy="3">J</tspan>';
 const dm=mk('polygon',{points:'96,113 103,120 96,127 89,120',fill:ORF},lg);
 
 
 const t3=mk('text',{x:243,y:126,'font-size':15,'text-anchor':'end'},lg);t3.innerHTML='M̃<tspan font-size="11" dy="3">c</tspan><tspan dy="-3"> &gt; 120 M</tspan><tspan font-size="11" dy="3">J</tspan>';
}
</script>
</body></html>
